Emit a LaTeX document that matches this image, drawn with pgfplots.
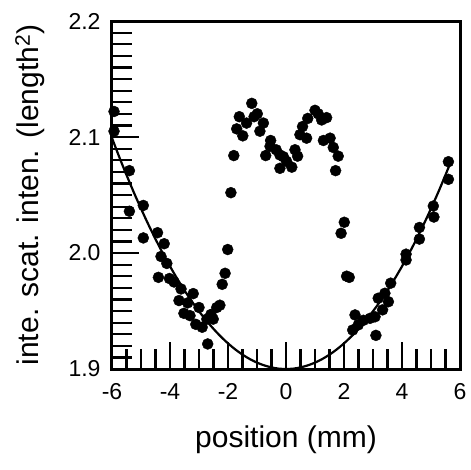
\documentclass[border=0pt]{standalone}
\usepackage{pgfplots}
\pgfplotsset{compat=1.18}
\usepackage{fontspec}
\setmainfont{Liberation Sans}
\begin{document}
\begin{tikzpicture}
\begin{axis}[name=ax,
  scale only axis, width=348bp, height=348bp,
  xmin=-6, xmax=6, ymin=1.9, ymax=2.2,
  xtick={-6,-4,...,6}, ytick={1.9,2.0,2.1,2.2},
  yticklabels={1.9,2.0,2.1,2.2},
  xticklabels={-6,-4,-2,0,2,4,6},
  minor x tick num=3, minor y tick num=9,
  tick pos=left, tick align=inside,
  major tick length=27bp, minor tick length=20bp,
  axis line style={line width=3bp},
  every tick/.style={black, line width=2.2bp},
  /pgf/number format/assume math mode=true,
  tick label style={font=\fontsize{23bp}{26bp}\selectfont},
  xticklabel style={yshift=-11bp},
  yticklabel style={xshift=-8bp},
  label style={font=\fontsize{30bp}{33bp}\selectfont},
  xlabel={position (mm)},
  ylabel={inte. scat. inten. (length\textsuperscript{2})},
  xlabel style={at={(axis description cs:0.5,-0.227)}, anchor=base},
  ylabel style={at={(axis description cs:-0.235,0.5)}, anchor=center, rotate=0},
  clip=false,
]
\addplot[black, line width=2.2bp, smooth, mark=none] coordinates {
(-6,2.0991)(-5.75,2.0828)(-5.5,2.0673)(-5.25,2.0524)(-5,2.0383)(-4.75,2.0248)
(-4.5,2.0120)(-4.25,1.9999)(-4,1.9885)(-3.75,1.9778)(-3.5,1.9677)(-3.25,1.9584)
(-3,1.9498)(-2.75,1.9418)(-2.5,1.9346)(-2.25,1.9280)(-2,1.9221)(-1.75,1.9169)
(-1.5,1.9124)(-1.25,1.9086)(-1,1.9055)(-0.75,1.9031)(-0.5,1.9014)(-0.25,1.9003)
(0,1.9)(0.25,1.9003)(0.5,1.9014)(0.75,1.9031)(1,1.9055)(1.25,1.9086)(1.5,1.9124)
(1.75,1.9169)(2,1.9221)(2.25,1.9280)(2.5,1.9346)(2.75,1.9418)(3,1.9498)
(3.25,1.9584)(3.5,1.9677)(3.75,1.9778)(4,1.9885)(4.25,1.9999)(4.5,2.0120)
(4.75,2.0248)(5,2.0383)(5.25,2.0524)(5.5,2.0673)(5.7,2.0797)
};
\addplot[only marks, mark=*, mark size=5.5bp, black] coordinates {
(-5.93,2.122)(-5.93,2.105)(-5.40,2.071)(-4.92,2.041)(-5.40,2.036)
(-4.43,2.0175)(-4.92,2.013)(-4.20,2.008)(-4.31,1.997)(-4.11,1.991)
(-4.40,1.979)(-4.02,1.978)(-3.86,1.975)(-3.62,1.969)(-3.69,1.959)
(-3.20,1.965)(-3.39,1.957)(-3.52,1.948)(-3.00,1.953)(-3.31,1.946)
(-3.11,1.9385)(-2.89,1.936)(-2.70,1.9216)(-2.73,1.943)(-2.51,1.943)
(-2.59,1.947)(-2.39,1.953)(-2.28,1.955)(-2.20,1.973)(-2.10,1.9825)
(-2.01,2.003)(-1.90,2.052)(-1.80,2.084)(-1.70,2.107)(-1.49,2.101)
(-1.61,2.1175)(-1.36,2.112)(-1.18,2.129)(-0.99,2.120)(-1.10,2.1175)
(-0.78,2.112)(-0.90,2.105)(-0.53,2.097)(-0.70,2.084)(-0.55,2.092)
(-0.34,2.089)(-0.21,2.0845)(-0.09,2.083)(-0.21,2.073)(0.02,2.079)
(0.20,2.074)(0.31,2.089)(0.40,2.0835)(0.48,2.102)(0.71,2.099)
(0.57,2.109)(0.75,2.116)(1.00,2.123)(1.11,2.120)(1.23,2.1147)
(1.40,2.1167)(1.29,2.097)(1.52,2.099)(1.63,2.091)(1.80,2.0835)
(1.71,2.071)(2.01,2.0265)(1.90,2.017)(2.09,1.980)(2.18,1.979)
(2.38,1.9466)(2.30,1.9336)(2.49,1.938)(2.67,1.942)(2.90,1.9437)
(3.07,1.945)(3.10,1.929)(3.18,1.961)(3.33,1.951)(3.41,1.9653)
(3.53,1.958)(3.61,1.974)(4.14,1.999)(4.14,1.994)(4.60,2.022)
(4.60,2.012)(5.08,2.0405)(5.10,2.031)(5.60,2.0787)(5.60,2.0635)
};
\end{axis}
\pgfresetboundingbox
\path[use as bounding box] (ax.south west) ++(-112bp,-101bp) rectangle ++(471bp,470bp);
\end{tikzpicture}
\end{document}
